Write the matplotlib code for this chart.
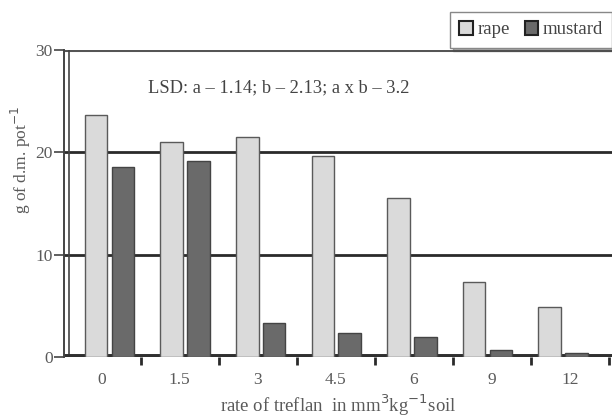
import numpy as np
import matplotlib.pyplot as plt
from matplotlib.patches import Patch

# data
rates = ['0', '1.5', '3', '4.5', '6', '9', '12']
rape = [23.6, 21.0, 21.5, 19.6, 15.5, 7.3, 4.9]
mustard = [18.6, 19.2, 3.3, 2.3, 2.0, 0.7, 0.4]

plt.rcParams['font.family'] = ['Liberation Serif', 'DejaVu Serif']

W, H = 612, 420
fig = plt.figure(figsize=(W / 100, H / 100), dpi=100)
ax_left, ax_bottom, ax_top = 64, 357, 50
ax = fig.add_axes([ax_left / W, 1 - ax_bottom / H, 1 - ax_left / W, (ax_bottom - ax_top) / H])

# pixel layout of the category axis (oblique 3D look: labels and bars drift apart)
unit = 75.6          # px between bar pairs
first = 109.5        # px of first pair centre
lab_step, lab_first = 78.1, 101.5

x = np.arange(len(rates))
w = 0.30
ax.bar(x - 0.178, rape, width=w, color='#dadada', edgecolor='#5a5a5a',
       linewidth=1.0, zorder=3, label='rape')
ax.bar(x + 0.178, mustard, width=w, color='#6a6a6a', edgecolor='#444444',
       linewidth=1.0, zorder=3, label='mustard')

ax.set_xlim((ax_left - first) / unit, (W - first) / unit)
ax.set_ylim(0, 30)

# back-wall gridlines and frame
for yv in (10, 20):
    ax.axhline(yv, color='#2a2a2a', lw=2.0, zorder=1)
ax.axhline(30, color='#555555', lw=2.2, zorder=1)
ax.axhline(0, color='#303030', lw=5, zorder=2)
ax.axvline((ax_left + 5 - first) / unit, color='#444444', lw=1.2, zorder=1)

for s in ['top', 'right', 'bottom']:
    ax.spines[s].set_visible(False)
ax.spines['left'].set_color('#444444')
ax.spines['left'].set_linewidth(1.4)

ax.set_yticks([0, 10, 20, 30])
ax.tick_params(axis='y', direction='out', length=7, width=1.2, color='#444444',
               labelsize=12.5, labelcolor='#5a5a5a', pad=1)

lab_pos = (lab_first + lab_step * x - first) / unit
ax.set_xticks(lab_pos)
ax.set_xticklabels(rates)
ax.set_xticks((lab_first - lab_step / 2 + lab_step * (x + 1) - first) / unit, minor=True)
ax.tick_params(axis='x', which='major', length=0, labelsize=12.5,
               labelcolor='#5a5a5a', pad=11)
ax.tick_params(axis='x', which='minor', direction='out', length=6, width=2,
               color='#2a2a2a')

ax.set_ylabel('g of d.m. pot$^{-1}$', fontsize=12.5, color='#5a5a5a')
ax.yaxis.set_label_coords((33 - ax_left) / (W - ax_left), (ax_bottom - 160) / (ax_bottom - ax_top))
ax.set_xlabel('rate of treflan  in mm$^{3}$kg$^{-1}$soil', fontsize=13.5,
              color='#5a5a5a', labelpad=3)

ax.text((148 - first) / unit, 26.3, 'LSD: a – 1.14; b – 2.13; a x b – 3.2', fontsize=13.3,
        color='#444444', zorder=4, va='center')

handles = [Patch(facecolor='#dadada', edgecolor='#222222', linewidth=1.5, label='rape'),
           Patch(facecolor='#6a6a6a', edgecolor='#222222', linewidth=1.5, label='mustard')]
leg = fig.legend(handles=handles, loc='upper right', bbox_to_anchor=(1.0, 1 - 12 / H),
                 ncol=2, fontsize=13.5, frameon=True, fancybox=False, shadow=True,
                 handlelength=0.7, handleheight=0.7, handletextpad=0.25,
                 columnspacing=0.8, borderpad=0.5, borderaxespad=0.0)
leg.get_frame().set_edgecolor('#888888')
leg.get_frame().set_linewidth(1.0)
for t in leg.get_texts():
    t.set_color('#444444')

fig.savefig('out.png', dpi=100)
